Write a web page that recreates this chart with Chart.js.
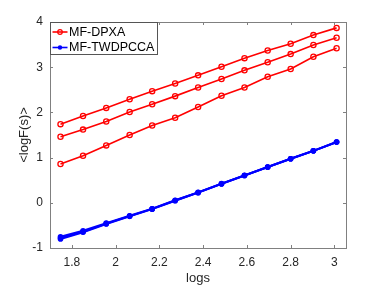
<!DOCTYPE html>
<html>
<head>
<meta charset="utf-8">
<script src="https://cdn.jsdelivr.net/npm/chart.js@4"></script>
<style>
  html, body { margin: 0; padding: 0; background: #fff; }
  #chart { display: block; }
</style>
</head>
<body>
<canvas id="chart" width="382" height="286"></canvas>
<script>
// log scale positions (same for every curve)
const logs = [1.748, 1.851, 1.957, 2.064, 2.167, 2.272, 2.377, 2.484, 2.589, 2.695, 2.800, 2.904, 3.010];

// MF-DPXA curves (red)
const dpxaTop = [1.74, 1.92, 2.10, 2.29, 2.47, 2.64, 2.82, 3.01, 3.20, 3.37, 3.52, 3.71, 3.87];
const dpxaMid = [1.46, 1.62, 1.80, 2.01, 2.18, 2.36, 2.55, 2.74, 2.93, 3.11, 3.29, 3.49, 3.65];
const dpxaLow = [0.86, 1.04, 1.27, 1.50, 1.71, 1.88, 2.12, 2.37, 2.55, 2.79, 2.96, 3.23, 3.42];

// MF-TWDPCCA curves (blue), nearly on top of each other
const twA = [-0.75, -0.62, -0.45, -0.285, -0.13, 0.055, 0.23, 0.424, 0.607, 0.793, 0.976, 1.15, 1.344];
const twB = [-0.78, -0.64, -0.46, -0.295, -0.135, 0.05, 0.227, 0.421, 0.605, 0.791, 0.975, 1.15, 1.344];
const twC = [-0.80, -0.65, -0.47, -0.30, -0.14, 0.046, 0.224, 0.418, 0.603, 0.789, 0.974, 1.149, 1.343];

const xTicks = [1.8, 2, 2.2, 2.4, 2.6, 2.8, 3];
const yTicks = [-1, 0, 1, 2, 3, 4];
const legendNames = ['MF-DPXA', 'MF-TWDPCCA'];

const RED = '#ff0000';
const BLUE = '#0000ff';
const AXIS = '#808080';
const TEXT = '#262626';
const FONT = '"Liberation Sans", Arial, Helvetica, sans-serif';

const pts = ys => ys.map((y, i) => ({ x: logs[i], y: y }));

const redSet = (ys) => ({
    data: pts(ys),
    borderColor: RED,
    backgroundColor: 'rgba(0,0,0,0)',
    borderWidth: 1.6,
    pointRadius: 2.6,
    pointBorderWidth: 1.3,
    pointBorderColor: RED,
    pointBackgroundColor: 'rgba(0,0,0,0)',
    tension: 0
});
const blueSet = (ys) => ({
    data: pts(ys),
    borderColor: BLUE,
    backgroundColor: BLUE,
    borderWidth: 2,
    pointRadius: 2.8,
    pointBorderWidth: 0,
    pointBackgroundColor: BLUE,
    tension: 0
});

// box, inward ticks and legend like the original figure
const boxPlugin = {
    id: 'boxPlugin',
    afterDatasetsDraw(chart) {
        const { ctx, chartArea: a, scales } = chart;
        const tl = 3;
        ctx.save();
        ctx.strokeStyle = AXIS;
        ctx.lineWidth = 1;
        ctx.strokeRect(Math.round(a.left) + 0.5, Math.round(a.top) + 0.5,
            Math.round(a.right - a.left), Math.round(a.bottom - a.top));
        ctx.beginPath();
        xTicks.forEach(v => {
            const px = Math.round(scales.x.getPixelForValue(v)) + 0.5;
            ctx.moveTo(px, a.bottom); ctx.lineTo(px, a.bottom - tl);
            ctx.moveTo(px, a.top); ctx.lineTo(px, a.top + tl);
        });
        yTicks.forEach(v => {
            const py = Math.round(scales.y.getPixelForValue(v)) + 0.5;
            ctx.moveTo(a.left, py); ctx.lineTo(a.left + tl, py);
            ctx.moveTo(a.right, py); ctx.lineTo(a.right - tl, py);
        });
        ctx.stroke();

        // legend
        const lx = a.left + 0.5, ly = a.top + 0.5, lw = 107, lh = 32;
        ctx.fillStyle = '#fff';
        ctx.fillRect(lx, ly, lw, lh);
        ctx.strokeStyle = '#555';
        ctx.strokeRect(lx, ly, lw, lh);
        const rows = [
            { name: legendNames[0], color: RED, hollow: true, y: ly + 9.5 },
            { name: legendNames[1], color: BLUE, hollow: false, y: ly + 25 }
        ];
        ctx.font = '12.5px ' + FONT;
        ctx.textBaseline = 'middle';
        rows.forEach(r => {
            ctx.strokeStyle = r.color;
            ctx.lineWidth = 1.6;
            ctx.beginPath();
            ctx.moveTo(lx + 2, r.y); ctx.lineTo(lx + 17, r.y);
            ctx.stroke();
            ctx.beginPath();
            ctx.arc(lx + 9.5, r.y, r.hollow ? 2.3 : 2.2, 0, Math.PI * 2);
            if (r.hollow) { ctx.lineWidth = 1.2; ctx.stroke(); }
            else { ctx.fillStyle = r.color; ctx.fill(); }
            ctx.fillStyle = '#000';
            ctx.fillText(r.name, lx + 18.5, r.y + 0.5);
        });
        ctx.restore();
    }
};

new Chart(document.getElementById('chart'), {
    type: 'line',
    data: {
        datasets: [
            redSet(dpxaTop), redSet(dpxaMid), redSet(dpxaLow),
            blueSet(twA), blueSet(twB), blueSet(twC)
        ]
    },
    options: {
        responsive: false,
        animation: false,
        devicePixelRatio: 1,
        layout: { padding: { top: 22, right: 36, left: 0, bottom: 0 } },
        plugins: {
            legend: { display: false },
            tooltip: { enabled: false }
        },
        scales: {
            x: {
                type: 'linear',
                min: 1.7,
                max: 3.053,
                afterBuildTicks: s => { s.ticks = xTicks.map(v => ({ value: v })); },
                afterFit: s => { s.height = 38; },
                grid: { display: false, drawTicks: false },
                border: { display: false },
                ticks: {
                    color: TEXT,
                    padding: 7,
                    font: { family: FONT, size: 12 },
                    callback: v => String(v)
                },
                title: {
                    display: true,
                    text: 'logs',
                    color: TEXT,
                    font: { family: FONT, size: 13 },
                    padding: { top: 0, bottom: 0 }
                }
            },
            y: {
                type: 'linear',
                min: -1,
                max: 4,
                afterBuildTicks: s => { s.ticks = yTicks.map(v => ({ value: v })); },
                afterFit: s => { s.width = 50; },
                grid: { display: false, drawTicks: false },
                border: { display: false },
                ticks: {
                    color: TEXT,
                    padding: 7,
                    font: { family: FONT, size: 12 },
                    callback: v => String(v)
                },
                title: {
                    display: true,
                    text: '<logF(s)>',
                    color: TEXT,
                    font: { family: FONT, size: 13 },
                    padding: { top: 17, bottom: 0 }
                }
            }
        }
    },
    plugins: [boxPlugin]
});
</script>
</body>
</html>
